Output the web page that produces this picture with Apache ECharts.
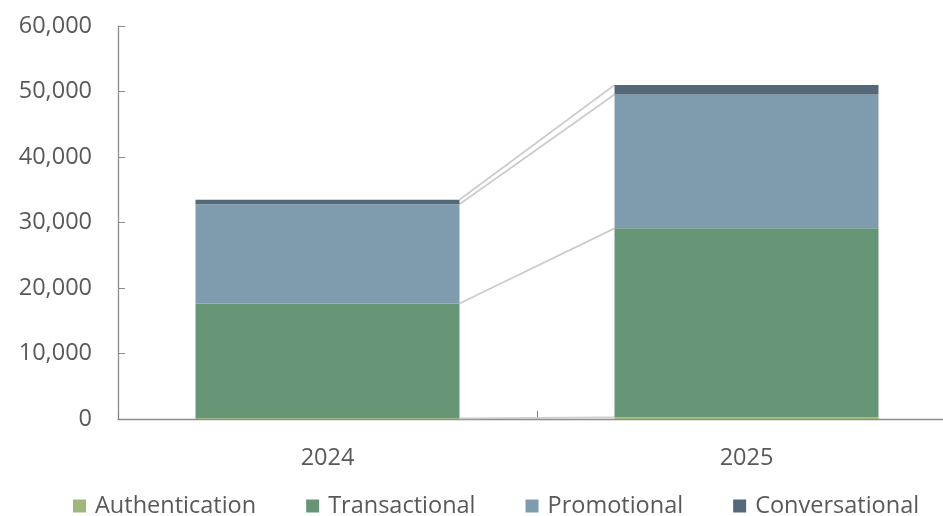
<!DOCTYPE html>
<html>
<head>
<meta charset="utf-8">
<script src="https://cdn.jsdelivr.net/npm/echarts@6/dist/echarts.min.js"></script>
<style>html,body{margin:0;padding:0;background:#fff}#c{width:943px;height:516px}</style>
</head>
<body>
<div id="c"></div>
<script>
const categories = ['2024', '2025'];
const seriesNames = ['Authentication', 'Transactional', 'Promotional', 'Conversational'];
const authentication = [100, 260];
const transactional = [17530, 28850];
const promotional = [15150, 20430];
const conversational = [700, 1450];
const yTicks = [0, 10000, 20000, 30000, 40000, 50000, 60000];

const values = [authentication, transactional, promotional, conversational];
const colors = ['#a3b67a', '#669676', '#7f9cae', '#536878'];
const BAR_RATIO = 0.63;

const chart = echarts.init(document.getElementById('c'), null, {renderer: 'canvas'});
const font = "'Open Sans', 'Noto Sans', sans-serif";

const barSeries = seriesNames.map((n, i) => ({
  name: n,
  type: 'bar',
  stack: 'total',
  barWidth: (BAR_RATIO * 100) + '%',
  itemStyle: {color: colors[i]},
  data: values[i],
  z: 3
}));

const connector = {
  type: 'custom',
  name: 'series lines',
  silent: true,
  z: 2,
  data: seriesNames.map((n, i) => [i]),
  renderItem: function (params, api) {
    const layer = api.value(0);
    let c0 = 0, c1 = 0;
    for (let k = 0; k <= layer; k++) { c0 += values[k][0]; c1 += values[k][1]; }
    const p0 = api.coord([0, c0]);
    const p1 = api.coord([1, c1]);
    const half = api.size([1, 0])[0] * BAR_RATIO / 2;
    return {
      type: 'line',
      shape: {x1: p0[0] + half, y1: p0[1], x2: p1[0] - half, y2: p1[1]},
      style: {stroke: '#cccccc', lineWidth: 1.8}
    };
  }
};

chart.setOption({
  animation: false,
  textStyle: {fontFamily: font},
  grid: {left: 118, width: 838, top: 26, height: 393, containLabel: false, outerBoundsMode: 'none'},
  legend: {
    data: seriesNames,
    top: 494,
    left: 73,
    padding: 0,
    itemWidth: 13,
    itemHeight: 13,
    itemGap: 50,
    icon: 'rect',
    textStyle: {fontSize: 23.5, color: '#595959', fontFamily: font, padding: [0, 0, 0, 4]}
  },
  xAxis: {
    type: 'category',
    data: categories,
    axisLine: {lineStyle: {color: '#8c8c8c', width: 1.3}},
    axisTick: {show: true, inside: true, length: 8, lineStyle: {color: '#7f7f7f'}, alignWithLabel: false},
    axisLabel: {fontSize: 23.5, color: '#595959', margin: 27, fontFamily: font},
    splitLine: {show: false}
  },
  yAxis: {
    type: 'value',
    min: 0, max: 60000, interval: 10000,
    axisLine: {show: true, lineStyle: {color: '#8c8c8c', width: 1.3}},
    axisTick: {show: true, inside: true, length: 7, lineStyle: {color: '#8c8c8c'}},
    splitLine: {show: false},
    axisLabel: {
      fontSize: 23.5, color: '#595959', margin: 26, fontFamily: font,
      formatter: v => yTicks.includes(v) ? v.toLocaleString('en-US') : ''
    }
  },
  series: [...barSeries, connector]
});
</script>
</body>
</html>
